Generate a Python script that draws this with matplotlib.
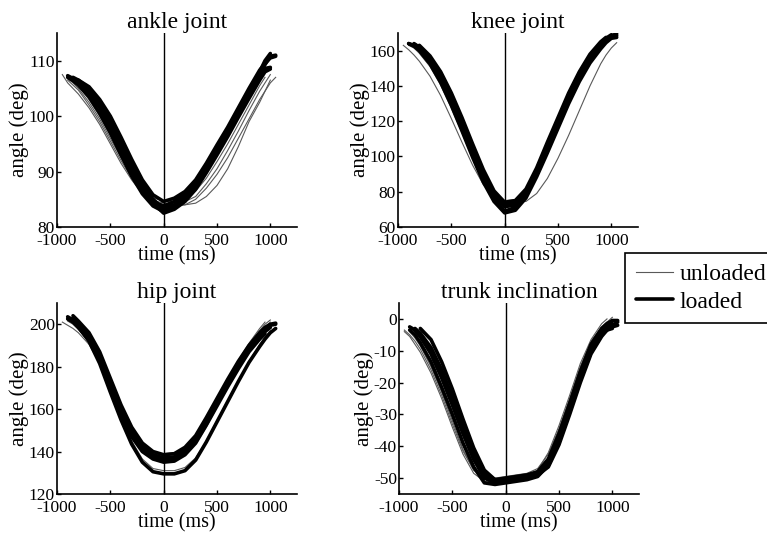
import numpy as np
import matplotlib
matplotlib.use("Agg")
import matplotlib.pyplot as plt

nan = np.nan

# shared sampling times (ms)
time_ms = [-950, -900, -850, -800, -700, -600, -500, -400, -300, -200, -100, 0,
           100, 200, 300, 400, 500, 600, 700, 800, 900, 950, 1000, 1050]

# ---------------- ankle joint (deg) ----------------
ankle_unloaded = [
    [107.5, 106.0, 105.0, 104.0, 101.5, 98.5, 95.0, 91.5, 88.5, 86.0, 84.5, 84.0, 83.8, 84.0, 85.0, 87.0, 89.5, 92.5, 96.0, 99.5, 103.0, 104.5, 106.0, 107.0],
    [nan, 106.8, 106.0, 105.0, 102.5, 99.5, 96.0, 92.5, 89.3, 86.8, 85.2, 84.8, 84.5, 84.6, 85.5, 87.8, 90.5, 93.8, 97.3, 101.0, 104.5, 106.0, 107.5, nan],
    [nan, 106.5, 105.6, 104.7, 102.0, 99.0, 95.5, 92.0, 88.8, 86.3, 84.8, 84.3, 84.0, 84.0, 84.3, 85.5, 87.5, 90.5, 94.5, 99.0, 102.5, 104.5, 106.5, nan],
    [nan, nan, 106.5, 105.5, 103.0, 100.0, 96.5, 92.8, 89.2, 86.3, 84.6, 84.0, 84.2, 85.0, 86.5, 88.8, 91.8, 95.0, 98.5, 102.0, 105.5, 107.0, nan, nan],
]
ankle_loaded = [
    [nan, 107.3, 106.8, 106.2, 104.5, 101.8, 98.5, 94.5, 90.5, 87.0, 84.3, 82.5, 83.2, 84.6, 86.8, 89.8, 93.0, 96.3, 99.8, 103.2, 106.5, 108.0, 108.5, nan],
    [nan, nan, 107.0, 106.5, 105.0, 102.5, 99.3, 95.5, 91.5, 87.8, 85.0, 83.3, 84.0, 85.4, 87.6, 90.5, 93.8, 97.2, 100.8, 104.2, 107.5, 109.3, 110.8, 111.0],
    [nan, 107.0, 106.4, 105.6, 103.5, 100.5, 97.0, 93.0, 89.2, 86.0, 83.8, 82.8, 83.5, 85.0, 87.3, 90.3, 93.5, 96.8, 100.3, 103.8, 107.0, 108.6, 108.8, nan],
    [nan, nan, 106.8, 106.0, 104.2, 101.5, 98.0, 94.0, 90.2, 86.8, 84.5, 83.8, 84.6, 86.0, 88.2, 91.2, 94.3, 97.5, 101.0, 104.5, 108.0, 110.0, 111.3, nan],
    [nan, nan, nan, 106.5, 105.3, 103.0, 100.0, 96.2, 92.2, 88.5, 85.8, 84.6, 85.2, 86.4, 88.5, 91.5, 94.8, 98.0, 101.5, 105.0, 108.3, 109.5, 110.5, 110.8],
]

# ---------------- knee joint (deg) ----------------
knee_unloaded = [
    [163.0, 160.5, 157.5, 154.0, 145.5, 134.5, 121.5, 108.0, 95.0, 84.0, 77.0, 74.5, 74.0, 74.5, 79.0, 87.5, 99.0, 112.0, 126.0, 140.0, 152.5, 157.5, 161.5, 164.5],
    [nan, 163.5, 162.0, 159.5, 152.5, 142.5, 130.0, 116.0, 101.5, 88.0, 78.0, 74.0, 75.0, 80.0, 91.0, 104.5, 118.5, 132.0, 144.0, 154.0, 161.5, 164.5, nan, nan],
    [nan, nan, 163.0, 161.0, 154.5, 144.5, 132.0, 118.0, 103.5, 90.0, 79.5, 75.0, 75.5, 81.0, 92.0, 105.5, 119.5, 133.0, 145.0, 155.0, 162.5, 165.5, 167.0, nan],
    [nan, 163.0, 161.5, 158.5, 151.0, 140.5, 127.5, 113.5, 99.0, 86.0, 77.0, 73.5, 74.5, 79.5, 90.0, 103.0, 117.0, 131.0, 143.5, 153.5, 161.0, nan, nan, nan],
]
knee_loaded = [
    [nan, 164.0, 163.0, 160.5, 153.5, 143.5, 130.5, 116.5, 101.5, 87.5, 76.0, 69.0, 71.0, 78.0, 90.0, 104.0, 118.0, 132.0, 144.5, 155.0, 162.5, 165.5, 168.0, 168.5],
    [nan, nan, 164.0, 162.0, 156.0, 146.5, 134.0, 120.0, 105.0, 91.0, 79.0, 72.5, 74.0, 80.5, 92.5, 106.5, 120.5, 134.5, 146.5, 156.5, 164.0, 167.0, 169.0, nan],
    [nan, 164.0, 162.5, 160.0, 152.5, 142.0, 129.0, 114.5, 99.5, 85.5, 74.5, 68.0, 69.5, 76.5, 88.5, 102.0, 116.0, 130.0, 142.5, 153.0, 161.0, 164.5, 167.0, 167.5],
    [nan, nan, 163.5, 161.5, 155.0, 145.0, 132.5, 118.5, 103.5, 89.5, 78.0, 71.5, 72.5, 79.0, 91.0, 105.0, 119.0, 133.0, 145.5, 155.5, 163.0, 166.0, 168.5, 169.5],
    [nan, nan, nan, 163.0, 157.0, 148.0, 136.0, 122.0, 107.0, 92.5, 80.5, 74.0, 75.0, 81.5, 93.5, 108.0, 122.0, 136.0, 148.0, 158.0, 165.0, 167.5, nan, nan],
]

# ---------------- hip joint (deg) ----------------
hip_unloaded = [
    [201.0, 199.5, 198.0, 196.0, 190.5, 181.5, 169.0, 156.5, 146.5, 140.5, 138.5, 138.5, 138.5, 139.5, 143.5, 151.5, 161.0, 171.0, 180.5, 189.5, 197.0, 200.0, 202.0, nan],
    [nan, 201.5, 200.0, 197.5, 191.5, 182.5, 170.5, 158.0, 148.0, 141.5, 139.0, 139.0, 139.5, 141.5, 146.5, 155.0, 164.5, 174.0, 183.0, 191.0, 198.0, 201.0, nan, nan],
    [nan, 202.0, 200.5, 198.5, 193.0, 184.0, 171.5, 159.0, 148.5, 141.0, 137.5, 137.0, 137.5, 140.0, 145.0, 153.0, 162.0, 171.5, 180.5, 189.0, 195.5, 198.5, 201.0, nan],
    [nan, nan, 201.0, 199.0, 192.5, 183.0, 170.0, 156.5, 145.0, 136.5, 132.0, 131.0, 131.0, 132.5, 137.0, 145.0, 154.5, 164.0, 173.5, 182.5, 190.5, 194.0, 197.0, nan],
]
hip_loaded = [
    [nan, 203.5, 202.0, 199.5, 193.5, 184.0, 171.0, 158.5, 148.0, 141.0, 137.5, 136.0, 136.5, 139.5, 145.0, 153.5, 162.5, 171.5, 180.0, 188.0, 194.0, 196.5, 198.5, nan],
    [nan, nan, 204.0, 201.5, 196.0, 187.0, 174.5, 162.0, 151.5, 144.0, 140.0, 138.5, 139.0, 142.0, 147.5, 156.0, 165.0, 174.0, 182.5, 190.0, 196.0, 198.5, 200.0, 200.5],
    [nan, nan, 203.0, 200.5, 194.5, 185.5, 172.5, 160.0, 149.5, 142.5, 138.5, 137.0, 137.5, 140.5, 146.0, 154.5, 163.5, 172.5, 181.0, 189.0, 195.0, 197.5, 199.5, 200.0],
    [nan, nan, nan, 199.0, 192.0, 181.5, 168.0, 155.0, 143.5, 135.0, 130.5, 129.5, 129.5, 131.0, 136.0, 144.5, 154.0, 163.5, 173.0, 182.0, 189.5, 193.0, 196.0, 198.0],
    [nan, 202.5, 201.0, 198.5, 192.5, 183.0, 170.0, 157.5, 147.0, 140.0, 136.5, 135.0, 135.5, 138.5, 144.0, 152.5, 161.5, 170.5, 179.0, 187.0, 193.0, 195.5, nan, nan],
]

# ---------------- trunk inclination (deg) ----------------
trunk_unloaded = [
    [-3.5, -5.0, -7.0, -9.5, -16.0, -24.0, -33.0, -41.5, -47.5, -50.0, -50.5, -50.5, -50.0, -49.5, -47.5, -42.0, -33.5, -24.0, -14.0, -6.5, -1.5, 0.0, nan, nan],
    [-4.0, -5.5, -8.0, -10.5, -17.0, -25.0, -34.0, -42.5, -48.5, -51.0, -51.5, -51.0, -50.5, -50.0, -48.5, -43.5, -35.0, -25.5, -15.5, -7.5, -2.5, -1.0, nan, nan],
    [nan, -3.5, -5.0, -7.5, -13.5, -21.5, -30.5, -39.5, -46.5, -49.5, -50.0, -49.5, -49.0, -48.5, -47.0, -42.5, -34.5, -25.0, -15.0, -7.0, -2.5, -1.0, 0.5, nan],
    [nan, -4.0, -6.0, -8.5, -15.0, -23.0, -32.0, -41.0, -47.5, -50.0, -50.5, -50.0, -49.5, -49.0, -48.0, -44.0, -36.0, -26.5, -16.5, -8.5, -3.5, -2.0, -1.0, nan],
]
trunk_loaded = [
    [nan, -2.5, -3.5, -5.5, -11.0, -18.5, -27.0, -36.0, -44.0, -49.5, -51.0, -50.5, -50.0, -49.5, -48.5, -45.0, -37.5, -28.0, -18.0, -9.5, -4.0, -2.5, -1.5, nan],
    [nan, nan, -3.0, -4.5, -9.0, -16.0, -24.5, -33.5, -42.0, -48.5, -50.5, -50.0, -49.5, -49.0, -48.0, -44.0, -36.0, -26.5, -16.5, -8.0, -3.0, -1.5, -0.5, -0.5],
    [nan, nan, nan, -3.0, -6.5, -13.5, -22.0, -31.5, -40.5, -47.5, -50.5, -51.0, -50.5, -50.0, -49.0, -46.5, -39.5, -30.0, -20.0, -11.0, -5.5, -3.5, -2.5, -2.0],
    [nan, -3.5, -5.0, -7.5, -13.5, -21.5, -30.0, -39.0, -46.5, -51.5, -52.0, -51.5, -51.0, -50.5, -49.5, -46.0, -38.5, -29.0, -19.0, -10.5, -5.0, -3.5, -3.0, nan],
    [nan, nan, -3.5, -5.5, -10.5, -18.0, -26.5, -35.5, -44.0, -50.0, -51.5, -51.0, -50.5, -50.0, -49.0, -45.5, -38.0, -28.5, -18.5, -10.0, -4.5, -3.0, -2.0, -1.0],
]

titles = ["ankle joint", "knee joint", "hip joint", "trunk inclination"]
ylims = [(80, 115), (60, 170), (120, 210), (-55, 5)]
yticks = [[80, 90, 100, 110], [60, 80, 100, 120, 140, 160],
          [120, 140, 160, 180, 200], [-50, -40, -30, -20, -10, 0]]
xticks = [-1000, -500, 0, 500, 1000]
xlim = (-1000, 1250)
legend_labels = ["unloaded", "loaded"]

plt.rcParams['font.family'] = ['Liberation Serif', 'DejaVu Serif']

fig = plt.figure(figsize=(7.67, 5.40), dpi=100)
positions = [
    [57 / 767, 1 - 227 / 540, 240 / 767, 194 / 540],
    [398 / 767, 1 - 227 / 540, 240 / 767, 194 / 540],
    [57 / 767, 1 - 494 / 540, 240 / 767, 191 / 540],
    [399 / 767, 1 - 494 / 540, 240 / 767, 191 / 540],
]
unloaded_sets = [ankle_unloaded, knee_unloaded, hip_unloaded, trunk_unloaded]
loaded_sets = [ankle_loaded, knee_loaded, hip_loaded, trunk_loaded]

handles = []
for i in range(4):
    ax = fig.add_axes(positions[i])
    t = np.array(time_ms, dtype=float)
    hu = hl = None
    for c in unloaded_sets[i]:
        hu, = ax.plot(t, c, color='0.35', lw=0.8, zorder=2)
    for c in loaded_sets[i]:
        hl, = ax.plot(t, c, color='black', lw=2.6, zorder=3,
                      solid_capstyle='round', solid_joinstyle='round')
    if i == 0:
        handles = [hu, hl]
    ax.axvline(0, color='black', lw=1.0, zorder=4)
    ax.set_xlim(*xlim)
    ax.set_ylim(*ylims[i])
    ax.set_xticks(xticks)
    ax.set_yticks(yticks[i])
    ax.set_xticklabels([str(v) for v in xticks])
    ax.set_yticklabels([str(v) for v in yticks[i]])
    for s in ['top', 'right']:
        ax.spines[s].set_visible(False)
    for s in ['left', 'bottom']:
        ax.spines[s].set_linewidth(1.2)
    ax.tick_params(direction='in', length=3, width=1, labelsize=12.5)
    ax.tick_params(axis='x', pad=4)
    ax.tick_params(axis='y', pad=1.5)
    ax.set_title(titles[i], fontsize=17, pad=3)
    ax.set_xlabel("time (ms)", fontsize=14.5, labelpad=-2)
    ax.set_ylabel("angle (deg)", fontsize=15, labelpad=0)

leg = fig.legend(handles, legend_labels, loc='upper left',
                 bbox_to_anchor=(625 / 767, 1 - 253 / 540),
                 fontsize=17, frameon=True, fancybox=False, framealpha=1,
                 edgecolor='black', handlelength=1.6, handletextpad=0.25,
                 borderpad=0.45, labelspacing=0.25, borderaxespad=0)
leg.get_frame().set_linewidth(1.2)

fig.savefig("out.png", dpi=100)
